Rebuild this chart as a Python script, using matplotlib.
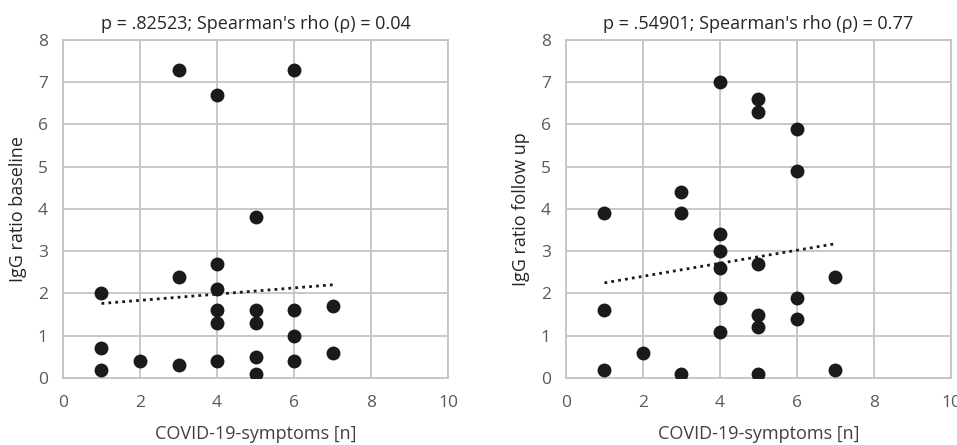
import numpy as np
import matplotlib
matplotlib.use("Agg")
import matplotlib.pyplot as plt

plt.rcParams['font.family'] = ['Open Sans', 'DejaVu Sans']

# symptoms count vs IgG ratio
x_base = [1, 1, 1, 2, 3, 3, 3, 4, 4, 4, 4, 4, 4, 5, 5, 5, 5, 5, 6, 6, 6, 6, 7, 7]
y_base = [2.0, 0.7, 0.2, 0.4, 7.3, 2.4, 0.3, 6.7, 2.7, 2.1, 1.6, 1.3, 0.4,
          3.8, 1.6, 1.3, 0.5, 0.1, 7.3, 1.6, 1.0, 0.4, 1.7, 0.6]

x_follow = [1, 1, 1, 2, 3, 3, 3, 4, 4, 4, 4, 4, 4, 5, 5, 5, 5, 5, 5, 6, 6, 6, 6, 7, 7]
y_follow = [3.9, 1.6, 0.2, 0.6, 4.4, 3.9, 0.1, 7.0, 3.4, 3.0, 2.6, 1.9, 1.1,
            6.6, 6.3, 2.7, 1.5, 1.2, 0.1, 5.9, 4.9, 1.9, 1.4, 2.4, 0.2]

titles = ["p = .82523; Spearman's rho (\u03c1) = 0.04",
          "p = .54901; Spearman's rho (\u03c1) = 0.77"]
ylabels = ["IgG ratio baseline", "IgG ratio follow up"]

fig = plt.figure(figsize=(9.57, 4.45), dpi=100)
ax1 = fig.add_axes([0.0658, 0.1506, 0.4025, 0.7596])
ax2 = fig.add_axes([0.5914, 0.1506, 0.4023, 0.7596])

grid_col = '#c4c4c4'
for ax, xs, ys, title, ylab in zip([ax1, ax2], [x_base, x_follow], [y_base, y_follow], titles, ylabels):
    ax.scatter(xs, ys, s=100, color='#1a1a1a', zorder=3, linewidths=0)
    # linear trendline
    k, b = np.polyfit(xs, ys, 1)
    xl = np.array([min(xs), max(xs)])
    ax.plot(xl, k * xl + b, color='#1a1a1a', linestyle=(0, (1, 1.5)), linewidth=2, zorder=2)
    ax.set_xlim(0, 10)
    ax.set_ylim(0, 8)
    ax.set_xticks(range(0, 11, 2))
    ax.set_yticks(range(0, 9))
    ax.grid(True, color=grid_col, linewidth=1.3)
    ax.set_axisbelow(True)
    for sp in ax.spines.values():
        sp.set_color(grid_col)
        sp.set_linewidth(1.3)
    ax.tick_params(length=0, labelsize=12.5, colors='#595959')
    ax.tick_params(axis='y', pad=11)
    ax.tick_params(axis='x', pad=12)
    ax.set_title(title, fontsize=13, color='#262626', pad=8)
    ax.set_xlabel("COVID-19-symptoms [n]", fontsize=13, color='#404040', labelpad=10)
    ax.set_ylabel(ylab, fontsize=13, color='#262626', labelpad=8)

fig.savefig("out.png", dpi=100)
